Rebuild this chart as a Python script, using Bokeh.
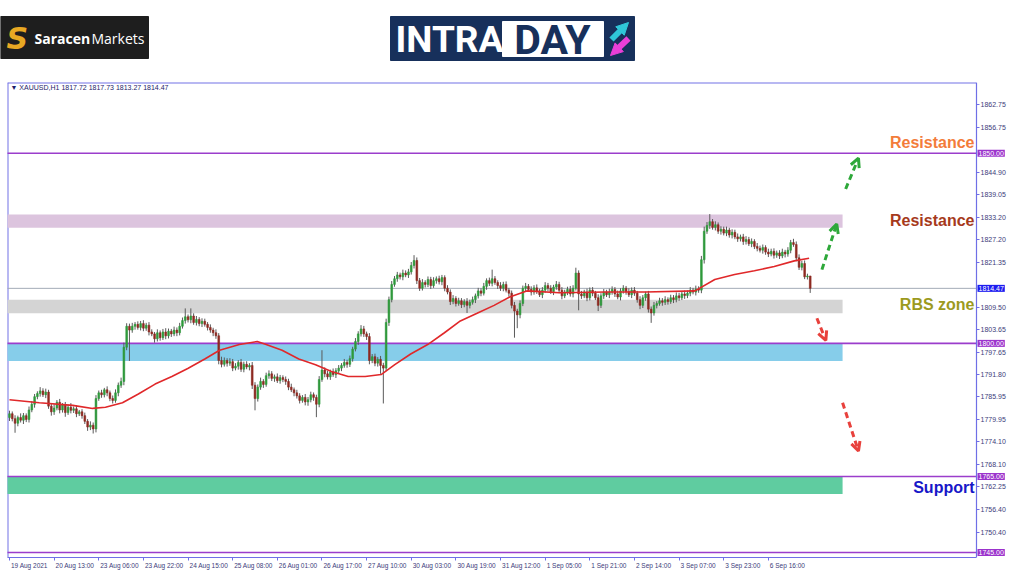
from bokeh.plotting import figure
from bokeh.models import (Range1d, FixedTicker, PrintfTickFormatter, Label,
                          Arrow, OpenHead, NormalHead, ColumnDataSource)
from bokeh.layouts import column, row
from bokeh.embed import file_html
from bokeh.resources import INLINE
from bokeh.core.properties import value

# ---------------- data ----------------
symbol_header = "\u25BC XAUUSD,H1  1817.72 1817.73 1813.27 1814.47"
first_open = 1780.5
closes = [
    1781.5, 1780.2, 1779.0, 1780.5, 1779.8, 1781.0, 1780.0, 1782.5, 1784.0, 1786.0, 1786.8, 1787.5,
    1786.5, 1787.2, 1783.5, 1782.0, 1783.0, 1784.5, 1782.5, 1783.8, 1781.8, 1783.2, 1782.4, 1782.8,
    1781.5, 1782.0, 1781.0, 1779.5, 1778.0, 1778.5, 1777.5, 1785.5, 1787.0, 1786.5, 1787.8, 1787.0,
    1785.5, 1785.0, 1787.0, 1789.0, 1790.0, 1799.0, 1804.5, 1803.5, 1804.5, 1805.0, 1804.2, 1805.2,
    1804.0, 1804.8, 1803.0, 1802.5, 1801.2, 1802.8, 1801.5, 1803.0, 1802.0, 1803.2, 1802.5, 1803.5,
    1802.8, 1804.5, 1806.0, 1807.0, 1806.2, 1807.2, 1805.5, 1806.3, 1805.2, 1805.8, 1805.0, 1804.2,
    1803.5, 1802.8, 1802.0, 1795.5, 1794.5, 1795.5, 1794.8, 1795.2, 1793.5, 1794.0, 1795.0, 1793.2,
    1794.5, 1793.8, 1794.2, 1789.0, 1785.5, 1788.5, 1790.0, 1789.2, 1791.5, 1792.0, 1790.8, 1791.2,
    1790.2, 1791.0, 1790.5, 1790.0, 1788.5, 1787.8, 1787.0, 1786.2, 1785.0, 1785.8, 1784.6, 1785.2,
    1786.5, 1785.8, 1784.0, 1790.5, 1793.0, 1792.0, 1791.2, 1792.5, 1791.8, 1792.8, 1793.5, 1794.2,
    1795.0, 1794.5, 1796.0, 1798.5, 1800.5, 1802.5, 1803.8, 1802.5, 1801.8, 1795.5, 1796.5, 1794.8,
    1795.8, 1794.2, 1793.5, 1805.5, 1811.5, 1815.5, 1817.0, 1818.0, 1817.5, 1818.5, 1818.0, 1818.8,
    1820.5, 1821.8, 1816.5, 1814.5, 1816.0, 1815.5, 1816.8, 1815.2, 1816.5, 1817.0, 1816.2, 1817.3,
    1814.5, 1813.5, 1811.0, 1811.8, 1810.5, 1811.2, 1810.2, 1811.0, 1810.0, 1810.8, 1811.5, 1812.5,
    1813.8, 1813.2, 1815.0, 1816.5, 1815.8, 1817.0, 1816.0, 1815.2, 1814.5, 1815.5, 1814.0, 1813.2,
    1810.0, 1808.5, 1807.5, 1810.5, 1814.5, 1815.0, 1814.2, 1813.5, 1814.6, 1813.8, 1812.8, 1814.0,
    1815.2, 1814.5, 1813.6, 1814.8, 1815.5, 1814.0, 1812.5, 1813.5, 1814.2, 1813.0, 1814.5, 1818.5,
    1813.0, 1812.5, 1813.5, 1812.0, 1814.0, 1813.2, 1812.0, 1810.0, 1812.5, 1813.5, 1812.8, 1813.5,
    1814.2, 1813.0, 1812.2, 1813.8, 1814.5, 1813.6, 1812.8, 1814.0, 1813.2, 1811.5, 1810.0, 1812.0,
    1813.0, 1809.0, 1808.0, 1810.0, 1810.5, 1811.2, 1810.8, 1811.5, 1811.0, 1812.0, 1811.5, 1812.5,
    1812.0, 1813.0, 1812.6, 1813.2, 1814.0, 1813.5, 1814.3, 1814.0, 1822.0, 1829.5, 1831.0, 1832.0,
    1830.5, 1831.2, 1829.5, 1830.0, 1829.0, 1829.8, 1828.5, 1829.2, 1828.0, 1827.5, 1828.0, 1826.8,
    1827.3, 1826.2, 1826.8, 1825.5, 1825.0, 1824.5, 1825.2, 1824.0, 1823.5, 1824.2, 1823.2, 1823.8,
    1823.0, 1824.0, 1823.5, 1824.5, 1826.5, 1826.0, 1822.5, 1820.0, 1821.0, 1817.5, 1817.72, 1814.47,
]
wick_hi = [
    0.8, 0.6, 0.9, 0.5, 1.1, 0.7, 0.6, 0.9, 0.8, 0.7, 0.6, 1.0,
    0.7, 0.9, 0.6, 0.8, 1.0, 0.6, 0.9, 0.5, 0.8, 0.7, 1.1, 0.6,
    0.9, 0.5, 0.7, 0.8, 0.6, 1.0, 0.7, 0.9, 0.6, 0.8, 0.5, 0.9,
    0.6, 0.8, 0.9, 0.7, 1.0, 1.2, 0.8, 0.7, 0.9, 0.6, 0.8, 0.7,
    0.9, 0.6, 0.8, 0.7, 0.5, 0.9, 0.6, 0.8, 1.0, 0.7, 0.6, 0.9,
    0.7, 0.9, 0.8, 2.2, 0.6, 2.0, 0.7, 0.9, 0.6, 0.8, 0.7, 0.6,
    0.8, 0.6, 0.9, 0.7, 1.0, 0.8, 0.6, 0.9, 0.7, 0.8, 0.6, 0.9,
    0.7, 0.8, 0.6, 0.9, 0.8, 0.7, 1.0, 0.6, 0.8, 0.9, 0.7, 0.6,
    0.9, 0.7, 0.6, 0.8, 0.7, 0.9, 0.6, 0.8, 0.7, 0.6, 0.9, 0.7,
    0.8, 0.6, 0.7, 0.9, 5.2, 0.7, 0.8, 0.6, 0.9, 0.7, 0.8, 0.6,
    0.9, 0.7, 0.8, 0.6, 0.9, 0.7, 1.0, 0.8, 0.6, 0.9, 0.7, 0.8,
    0.6, 0.9, 0.7, 1.0, 0.8, 0.9, 0.7, 0.8, 0.6, 0.9, 0.7, 0.8,
    0.9, 1.4, 0.8, 0.7, 0.9, 0.6, 0.8, 0.7, 0.9, 0.6, 0.8, 0.7,
    0.6, 0.8, 0.7, 0.9, 0.6, 0.8, 0.7, 0.6, 0.9, 0.7, 0.8, 0.6,
    0.8, 0.7, 0.9, 0.6, 0.8, 2.4, 0.7, 0.6, 0.9, 0.7, 0.8, 0.6,
    0.7, 0.9, 0.6, 0.8, 0.7, 0.9, 0.6, 0.8, 0.7, 0.9, 0.6, 0.8,
    0.9, 0.7, 0.8, 0.6, 0.9, 0.7, 0.8, 0.6, 0.7, 0.9, 0.8, 1.4,
    0.7, 0.8, 0.6, 0.9, 0.7, 0.8, 0.6, 0.9, 0.7, 0.8, 0.6, 0.9,
    0.8, 0.6, 0.9, 0.7, 0.8, 0.6, 0.9, 0.7, 0.8, 0.6, 0.9, 0.7,
    0.6, 0.8, 0.7, 0.9, 0.6, 0.8, 0.7, 0.9, 0.6, 0.8, 0.7, 0.9,
    0.8, 0.6, 0.9, 0.7, 0.8, 0.6, 0.9, 0.7, 1.0, 1.2, 0.9, 2.0,
    0.7, 0.9, 0.6, 0.8, 0.7, 0.9, 0.6, 0.8, 0.7, 0.9, 0.6, 0.8,
    0.9, 0.7, 0.8, 0.6, 0.9, 0.7, 0.8, 0.6, 0.9, 0.7, 0.8, 0.6,
    0.7, 0.9, 0.6, 0.8, 0.7, 1.0, 0.8, 0.9, 0.7, 0.8, 0.6, 0.01,
]
wick_lo = [
    0.9, 0.7, 2.5, 0.8, 0.6, 1.0, 0.7, 0.8, 0.6, 0.9, 0.7, 0.8,
    0.6, 0.9, 0.7, 1.0, 0.8, 0.6, 0.9, 0.7, 1.1, 0.6, 0.8, 0.7,
    0.9, 0.6, 0.8, 0.7, 1.0, 0.8, 1.2, 0.9, 0.6, 0.8, 0.7, 0.9,
    0.7, 0.8, 0.6, 0.9, 0.7, 1.0, 0.8, 8.1, 0.7, 0.9, 0.6, 0.8,
    0.8, 0.7, 0.9, 0.6, 1.0, 0.7, 0.8, 0.6, 0.9, 0.7, 0.8, 0.6,
    0.9, 0.7, 0.6, 0.8, 0.7, 0.9, 0.6, 0.8, 0.7, 0.9, 0.6, 0.8,
    0.7, 0.9, 0.8, 1.0, 0.8, 0.6, 0.9, 0.7, 0.8, 0.6, 0.9, 0.7,
    0.8, 0.6, 0.9, 1.0, 3.1, 0.8, 0.7, 0.9, 0.6, 0.8, 0.7, 0.9,
    0.6, 0.8, 0.7, 0.9, 0.8, 0.6, 0.9, 0.7, 0.8, 0.6, 0.9, 1.0,
    0.7, 0.9, 3.4, 0.8, 0.6, 0.9, 0.7, 0.8, 0.6, 0.9, 0.7, 0.8,
    0.6, 0.9, 0.7, 0.8, 0.6, 0.9, 0.7, 0.8, 0.9, 1.0, 0.7, 0.8,
    0.9, 2.2, 9.3, 0.8, 0.9, 0.7, 0.6, 0.8, 0.7, 0.9, 0.6, 0.8,
    0.7, 0.8, 0.9, 0.7, 0.6, 0.8, 0.7, 0.9, 0.6, 0.8, 0.7, 0.9,
    0.8, 0.6, 0.9, 0.7, 0.8, 0.6, 0.9, 0.7, 2.0, 0.8, 0.6, 0.9,
    0.7, 0.8, 0.6, 0.9, 0.7, 0.8, 0.6, 0.9, 0.7, 0.8, 0.6, 0.9,
    0.8, 7.0, 3.5, 0.9, 0.7, 0.8, 0.6, 0.9, 0.7, 0.8, 0.6, 0.9,
    0.7, 0.8, 0.6, 0.9, 0.7, 0.8, 0.9, 0.6, 0.8, 0.7, 0.9, 0.6,
    4.3, 0.8, 0.6, 0.9, 0.7, 0.8, 0.6, 1.5, 0.7, 0.8, 0.6, 0.9,
    0.7, 0.8, 0.6, 0.9, 0.7, 0.8, 0.6, 0.9, 0.7, 0.8, 1.0, 0.7,
    0.8, 0.9, 2.6, 0.7, 0.8, 0.6, 0.9, 0.7, 0.8, 0.6, 0.9, 0.7,
    0.8, 0.6, 0.9, 0.7, 0.8, 0.6, 0.9, 0.7, 0.8, 1.0, 0.7, 0.9,
    0.6, 0.8, 0.7, 0.9, 0.6, 0.8, 0.7, 0.9, 0.6, 0.8, 0.7, 0.9,
    0.8, 0.6, 0.9, 0.7, 0.8, 0.6, 0.9, 0.7, 0.8, 0.6, 0.9, 0.7,
    0.8, 0.6, 0.9, 0.7, 0.8, 0.6, 0.9, 0.7, 0.8, 0.6, 0.7, 1.2,
]

# moving average (bar index, price)
ma_bar = [0, 10.7, 22.7, 29.8, 34.4, 40.5, 46.2, 52.2, 58.2, 63.9, 70, 75.3, 82.4, 88.8, 92,
          97.7, 103.7, 109.7, 115.4, 121.4, 127.5, 133.2, 138.1, 143.8, 149.9, 155.9, 161.6,
          167.6, 173.7, 179.3, 185.4, 197.1, 213.8, 228, 245.7, 252.8, 259.9, 267, 274.1, 281.3, 286.6]
ma_val = [1785.2, 1784.4, 1783.7, 1782.9, 1783.2, 1784.4, 1786.7, 1789.3, 1791.3, 1793.4, 1795.9,
          1798.2, 1799.7, 1800.5, 1799.7, 1798.2, 1795.9, 1794.4, 1792.6, 1791.3, 1791.3, 1791.8,
          1794.4, 1797.2, 1799.7, 1802.8, 1805.9, 1807.9, 1810.0, 1812.2, 1813.8, 1813.3, 1813.5,
          1813.5, 1813.8, 1816.8, 1818.1, 1819.1, 1820.2, 1821.7, 1822.4]

x_tick_bars = [0, 16, 32, 48, 64, 80, 96, 112, 128, 144, 160, 176, 192, 208, 224, 240, 256, 272]
x_tick_labels = ["19 Aug 2021", "20 Aug 13:00", "23 Aug 06:00", "23 Aug 22:00", "24 Aug 15:00",
                 "25 Aug 08:00", "26 Aug 01:00", "26 Aug 17:00", "27 Aug 10:00", "30 Aug 03:00",
                 "30 Aug 19:00", "31 Aug 12:00", "1 Sep 05:00", "1 Sep 21:00", "2 Sep 14:00",
                 "3 Sep 07:00", "3 Sep 23:00", "6 Sep 16:00"]
y_ticks = [1862.75, 1856.75, 1844.90, 1839.05, 1833.20, 1827.20, 1821.35, 1809.50, 1803.65,
           1797.65, 1791.80, 1785.95, 1779.95, 1774.10, 1768.10, 1762.25, 1756.40, 1750.40]

level_lines = [1850.00, 1800.00, 1765.00, 1745.00]
last_price = 1814.47

zone_names = ["resistance", "rbs", "pivot", "support"]
zone_bottom = [1830.4, 1807.9, 1795.4, 1760.4]
zone_top = [1833.9, 1811.5, 1800.0, 1765.0]
zone_end_bar = 298.6

label_texts = ["Resistance", "Resistance", "RBS zone", "Support"]
label_prices = [1852.8, 1832.4, 1810.2, 1762.0]

arrow_x0 = [291.2, 299.7, 289.4, 298.6]
arrow_y0 = [1819.4, 1840.6, 1806.6, 1784.4]
arrow_x1 = [296.5, 304.3, 292.6, 304.3]
arrow_y1 = [1831.4, 1848.7, 1800.8, 1771.7]
arrow_dir = ["up", "up", "down", "down"]

# ---------------- layout ----------------
W = 1008
FONT = "Liberation Sans"
TOP_H = 81
MAIN_H = 571 - TOP_H
BL, BT, BB = 7, 1, 12
frame_w = W - BL
frame_h = MAIN_H - BT - BB
AXIS_PX = 976 - BL          # where the price axis sits inside the frame

# header with logos
top = figure(width=W, height=TOP_H, x_range=Range1d(0, W), y_range=Range1d(TOP_H, 0),
             x_axis_type=None, y_axis_type=None, output_backend="svg",
             toolbar_location=None, min_border=0)
top.grid.visible = False
top.outline_line_color = None
top.background_fill_color = "white"

top.quad(left=[0], right=[148], top=[16], bottom=[58], color="#1e1e1e")
top.text(x=[6], y=[38], text=["S"], text_color="#e8a823", text_font=value("DejaVu Sans"),
         text_font_size="30px", text_font_style="bold italic", text_baseline="middle")
top.text(x=[34], y=[38], text=["Saracen"], text_color="white", text_font=value("Open Sans"),
         text_font_size="14px", text_font_style="bold", text_baseline="middle")
top.text(x=[91], y=[38], text=["Markets"], text_color="white", text_font=value("Open Sans"),
         text_font_size="14px", text_baseline="middle")

top.quad(left=[390], right=[634], top=[16], bottom=[60], color="#17305b")
top.quad(left=[502], right=[603], top=[21], bottom=[56], color="white")
top.text(x=[395], y=[39], text=["INTRA"], text_color="white", text_font=value("Roboto"),
         text_font_size="37px", text_font_style="bold", text_baseline="middle")
top.text(x=[552], y=[39], text=["DAY"], text_color="#17305b", text_font=value("Roboto"),
         text_font_size="41px", text_font_style="bold", text_baseline="middle", text_align="center")
top.add_layout(Arrow(end=NormalHead(size=12, fill_color="#2fc6d8", line_color="#2fc6d8"),
                     x_start=611, y_start=39, x_end=628, y_end=22,
                     line_color="#2fc6d8", line_width=6))
top.add_layout(Arrow(end=NormalHead(size=12, fill_color="#ea3fd8", line_color="#ea3fd8"),
                     x_start=628, y_start=38, x_end=610, y_end=55,
                     line_color="#ea3fd8", line_width=6))

# main chart: the frame runs to the right edge, the price axis is pinned inside it
x_start, axis_x = -0.71, 346.6
px_per_bar = AXIS_PX / (axis_x - x_start)
x_end = axis_x + (frame_w - AXIS_PX) / px_per_bar
y_lo, y_hi = 1743.7, 1868.6
p = figure(width=W, height=MAIN_H,
           x_range=Range1d(x_start, x_end),
           y_range=Range1d(y_lo, y_hi),
           y_axis_location="right", output_backend="svg", toolbar_location=None,
           min_border_left=BL, min_border_right=0, min_border_top=BT, min_border_bottom=BB)
p.grid.visible = False
p.background_fill_color = "white"
p.outline_line_color = None

axis_col = "#6f6fe6"
lab_col = "#3c3c7a"
p.yaxis.fixed_location = axis_x
p.yaxis.ticker = FixedTicker(ticks=y_ticks)
p.yaxis.formatter = PrintfTickFormatter(format="%.2f")
p.yaxis.axis_line_color = axis_col
p.yaxis.axis_line_width = 1.2
p.yaxis.major_tick_line_color = axis_col
p.yaxis.major_tick_out = 3
p.yaxis.major_tick_in = 0
p.yaxis.minor_tick_line_color = None
p.yaxis.major_label_text_font = FONT
p.yaxis.major_label_text_font_size = "7px"
p.yaxis.major_label_text_color = lab_col
p.yaxis.major_label_standoff = 1

# x axis: tick marks at the bar (minor ticks), labels start at the tick (MT4 style)
char_w = {" ": 0.278, ":": 0.278, "A": 0.667, "S": 0.667}
XFS = 6.5
def text_width_px(s, size=XFS):
    return sum(char_w.get(ch, 0.556) for ch in s) * size

label_centres = [round(b + (1.5 + text_width_px(t) / 2) / px_per_bar, 4)
                 for b, t in zip(x_tick_bars, x_tick_labels)]
p.xaxis.ticker = FixedTicker(ticks=label_centres, minor_ticks=x_tick_bars)
p.xaxis.major_label_overrides = {c: t for c, t in zip(label_centres, x_tick_labels)}
p.xaxis.bounds = (x_start, axis_x)
p.xaxis.axis_line_color = axis_col
p.xaxis.major_tick_line_color = None
p.xaxis.major_tick_out = 3
p.xaxis.major_tick_in = 0
p.xaxis.minor_tick_line_color = axis_col
p.xaxis.minor_tick_out = 3
p.xaxis.minor_tick_in = 0
p.xaxis.major_label_text_font = FONT
p.xaxis.major_label_text_font_size = "%.1fpx" % XFS
p.xaxis.major_label_text_color = lab_col
p.xaxis.major_label_standoff = 1

# frame border (left and top), the axes give the right and bottom edges
p.segment(x0=[x_start, x_start], y0=[y_lo, y_hi], x1=[x_start, axis_x], y1=[y_hi, y_hi],
          line_color="#7272e6", line_width=2)

# zones
zone_colors = {"resistance": "#dcc4de", "rbs": "#d4d4d4", "pivot": "#86cdea", "support": "#5fcca0"}
p.quad(left=[x_start - 2] * len(zone_names), right=[zone_end_bar] * len(zone_names),
       bottom=zone_bottom, top=zone_top,
       fill_color=[zone_colors[z] for z in zone_names], line_color=None)

# horizontal levels up to the price axis
k = len(level_lines)
p.segment(x0=[x_start - 2] * k, y0=level_lines, x1=[axis_x] * k, y1=level_lines,
          line_color="#9b3dcc", line_width=1.6)
p.segment(x0=[x_start - 2], y0=[last_price], x1=[axis_x], y1=[last_price],
          line_color="#a3acb8", line_width=1)

# candles
n = len(closes)
opens = [first_open] + closes[:-1]
bars = list(range(n))
highs = [max(o, c) + h for o, c, h in zip(opens, closes, wick_hi)]
lows = [min(o, c) - l for o, c, l in zip(opens, closes, wick_lo)]
body_top = [max(o, c) for o, c in zip(opens, closes)]
body_bot = [min(o, c) for o, c in zip(opens, closes)]
cols = ["#2f9a3c" if c >= o else "#8e2a22" for o, c in zip(opens, closes)]
src = ColumnDataSource(dict(x=bars, high=highs, low=lows, top=body_top, bottom=body_bot, color=cols))
p.segment(x0="x", y0="low", x1="x", y1="high", source=src, line_color="#5a5a5a", line_width=1)
p.vbar(x="x", width=0.62, top="top", bottom="bottom", source=src,
       fill_color="color", line_color="color", line_width=0.6)

# moving average
p.line(ma_bar, ma_val, line_color="#e0282a", line_width=1.6)

# arrows
arrow_colors = {"up": "#2ea83a", "down": "#e8413c"}
for xs, ys, xe, ye, d in zip(arrow_x0, arrow_y0, arrow_x1, arrow_y1, arrow_dir):
    c = arrow_colors[d]
    p.add_layout(Arrow(end=OpenHead(size=9, line_color=c, line_width=3),
                       x_start=xs, y_start=ys, x_end=xe, y_end=ye,
                       line_color=c, line_width=3, line_dash="6 4"))

# zone labels
label_colors = ["#f37c3a", "#a63a1c", "#9c9a1e", "#1717c8"]
for t, yv, c in zip(label_texts, label_prices, label_colors):
    p.add_layout(Label(x=AXIS_PX - 2, x_units="screen", y=yv, text=t, text_color=c,
                       text_font=FONT, text_font_size="16px", text_font_style="bold",
                       text_align="right", text_baseline="middle"))

# header text
p.add_layout(Label(x=3, x_units="screen", y=frame_h - 7, y_units="screen", text=symbol_header,
                   text_color="#1c1c6a", text_font=FONT, text_font_size="7px",
                   text_baseline="middle"))

# highlighted price boxes on the price axis
box_x = axis_x + 1.0 / px_per_bar
for lv, bg in zip(level_lines + [last_price], ["#9b33cc"] * 4 + ["#1c1cf0"]):
    p.add_layout(Label(x=box_x, y=lv, text="%.2f" % lv,
                       text_color="white", text_font=FONT, text_font_size="7px",
                       text_align="left", text_baseline="middle",
                       background_fill_color=bg, padding=1))

layout = column(row(top), p, spacing=0)
open("out.html", "w").write(file_html(layout, INLINE))
